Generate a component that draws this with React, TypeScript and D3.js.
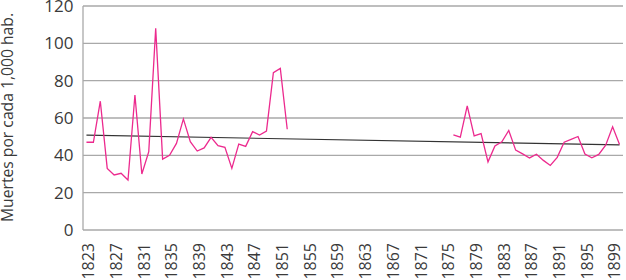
import React from "react";
import * as d3 from "d3";

const years: number[] = d3.range(1823, 1901);

// Mortality (deaths per 1,000 inhabitants); null = no data
const mortality: (number | null)[] = [
  // 1823–1852
  47, 47, 69, 33, 29.5, 30.4, 26.8, 72.3, 30, 42,
  108, 38, 40, 46.4, 59.5, 47.3, 42.3, 44, 49.6, 45.2,
  44.3, 33, 46, 44.8, 52.7, 50.9, 53, 84.3, 86.6, 54,
  // 1853–1875
  null, null, null, null, null, null, null, null, null, null,
  null, null, null, null, null, null, null, null, null, null,
  null, null, null,
  // 1876–1900
  51, 49.8, 66.5, 50.4, 51.6, 36.5, 45, 47.2, 53.3, 42.8,
  40.8, 38.6, 40.6, 37.3, 34.6, 38.9, 47, 48.6, 50.1, 40.7,
  38.7, 40.5, 45.4, 55.3, 45.8,
];

// Linear trend line (start year, end year) and values
const trendYears: number[] = [1823, 1900];
const trendValues: number[] = [50.8, 45.6];

const yTicks: number[] = [0, 20, 40, 60, 80, 100, 120];
const xTickLabels: number[] = [
  1823, 1827, 1831, 1835, 1839, 1843, 1847, 1851, 1855, 1859,
  1863, 1867, 1871, 1875, 1879, 1883, 1887, 1891, 1895, 1899,
];
const yAxisTitle = "Muertes por cada 1,000 hab.";

const W = 626;
const H = 280;
const left = 83;
const right = 623;
const top = 6;
const bottom = 230;
const FONT = "'Open Sans', 'Noto Sans', sans-serif";

export default function App() {
  const x = d3.scaleBand<number>().domain(years).range([left, right]).padding(0);
  const cx = (yr: number) => (x(yr) as number) + x.bandwidth() / 2;
  const y = d3.scaleLinear().domain([0, 120]).range([bottom, top]);

  const line = d3
    .line<{ yr: number; v: number | null }>()
    .defined((d) => d.v !== null)
    .x((d) => cx(d.yr))
    .y((d) => y(d.v as number));

  const pts = years.map((yr, i) => ({ yr, v: mortality[i] }));
  const trendPath = d3
    .line<number>()
    .x((_, i) => cx(trendYears[i]))
    .y((d) => y(d))(trendValues);

  return (
    <svg
      width={W}
      height={H}
      style={{ position: "absolute", left: 0, top: 0, background: "#fff", display: "block" }}
    >
      {yTicks.map((t) => (
        <line
          key={"g" + t}
          x1={left}
          x2={right}
          y1={y(t)}
          y2={y(t)}
          stroke="#a9a9a9"
          strokeWidth={1.3}
        />
      ))}
      <line x1={left} x2={left} y1={top} y2={bottom} stroke="#a9a9a9" strokeWidth={1.3} />
      {yTicks.map((t) => (
        <text
          key={"yt" + t}
          x={73.5}
          y={y(t)}
          dy="0.36em"
          textAnchor="end"
          fontFamily={FONT}
          fontSize={17}
          fill="#3a3a3a"
        >
          {t}
        </text>
      ))}
      {xTickLabels.map((yr) => (
        <text
          key={"xt" + yr}
          transform={`translate(${cx(yr) + 2},${bottom + 13}) rotate(-90)`}
          dy="0.36em"
          textAnchor="end"
          fontFamily={FONT}
          fontSize={16}
          fill="#3a3a3a"
        >
          {yr}
        </text>
      ))}
      <text
        transform={`translate(12.5,${(13 + 222) / 2}) rotate(-90)`}
        textAnchor="middle"
        fontFamily={FONT}
        fontSize={15.7}
        fill="#3a3a3a"
      >
        {yAxisTitle}
      </text>
      <path d={trendPath || ""} fill="none" stroke="#333" strokeWidth={1.1} />
      <path d={line(pts) || ""} fill="none" stroke="#ec2a8e" strokeWidth={1.3} strokeLinejoin="miter" />
    </svg>
  );
}
